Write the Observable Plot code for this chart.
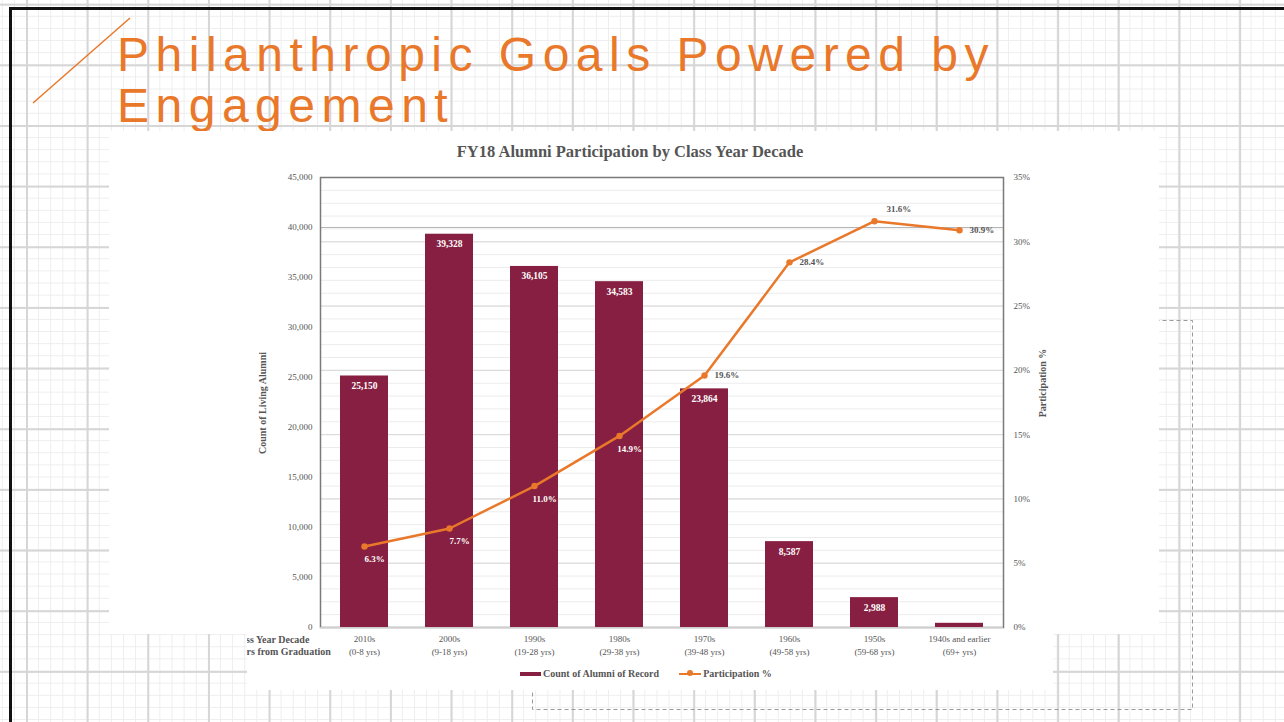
<!DOCTYPE html>
<html><head><meta charset="utf-8">
<script src="https://cdn.jsdelivr.net/npm/d3@7"></script>
<script src="https://cdn.jsdelivr.net/npm/@observablehq/plot@0.6"></script>
<style>
html,body{margin:0;padding:0;width:1284px;height:722px;overflow:hidden;background:#fff;}
#slide{position:absolute;left:0;top:0;width:1284px;height:722px;background-color:#fff;
 background-image:
  linear-gradient(to right, #d6d6d6 0, #d6d6d6 2px, transparent 2px),
  linear-gradient(to bottom, #d6d6d6 0, #d6d6d6 2px, transparent 2px),
  linear-gradient(to right, #ededed 0, #ededed 1px, transparent 1px),
  linear-gradient(to bottom, #ededed 0, #ededed 1px, transparent 1px);
 background-size:60.67px 60.67px,60.67px 60.67px,12.134px 12.134px,12.134px 12.134px;
 background-position:26px 0,0 3.7px,26px 0,0 3.7px;}
#bl{position:absolute;left:9px;top:7px;width:3px;height:720px;background:#111;}
#bt{position:absolute;left:9px;top:7px;width:1280px;height:2.5px;background:#111;}
#deco{position:absolute;left:0;top:0;}
#title{position:absolute;left:117px;top:29px;font-family:"Liberation Sans",Arial,sans-serif;font-size:48px;line-height:51px;letter-spacing:6.5px;color:#E9782A;white-space:nowrap;}
#chart{position:absolute;left:109px;top:131px;width:1050px;height:559px;background:#fff;
 clip-path:polygon(0 0,1050px 0,1050px 503px,944px 503px,944px 559px,138px 559px,138px 503px,0 503px);
 font-family:"Liberation Serif","Times New Roman",serif;color:#555;}
#ctitle{position:absolute;left:0;width:1042px;top:11px;text-align:center;font-size:16.5px;font-weight:bold;color:#555;}
.ytitle{position:absolute;font-size:10px;font-weight:bold;color:#555;white-space:nowrap;transform:translate(-50%,-50%) rotate(-90deg);}
#xtitle{position:absolute;left:122px;top:503px;font-size:10px;font-weight:bold;line-height:11.5px;color:#555;white-space:nowrap;}
#legend{position:absolute;left:411px;top:537px;font-size:10px;font-weight:bold;color:#555;white-space:nowrap;display:flex;align-items:center;}
#legend .sw{display:inline-block;width:21px;height:4px;background:#861F41;margin-right:2px;}
#legend .ln{display:inline-block;position:relative;width:22px;height:2px;background:#E9782A;margin:0 2px 0 20px;}
#legend .ln i{position:absolute;left:8px;top:-2.5px;width:6px;height:6px;border-radius:50%;background:#E9782A;}
</style></head>
<body>
<div id="slide"></div>
<div id="bl"></div><div id="bt"></div>
<svg id="deco" width="1284" height="722">
  <line x1="33" y1="103" x2="130" y2="18" stroke="#E9782A" stroke-width="1.5"/>
  <rect x="532.5" y="320.5" width="660" height="389" fill="none" stroke="#9a9a9a" stroke-width="1" stroke-dasharray="4 3"/>
</svg>
<div id="title">Philanthropic Goals Powered by<br>Engagement</div>
<div id="chart">
  <div id="ctitle">FY18 Alumni Participation by Class Year Decade</div>
  <div class="ytitle" style="left:153px;top:272px;">Count of Living Alumni</div>
  <div class="ytitle" style="left:933px;top:252px;">Participation %</div>
  <div id="xtitle">Class Year Decade<br>Years from Graduation</div>
  <div id="legend"><span class="sw"></span>Count of Alumni of Record<span class="ln"><i></i></span>Participation %</div>
</div>
<script>
const decades = ["2010s","2000s","1990s","1980s","1970s","1960s","1950s","1940s and earlier"];
const yearsOut = ["(0-8 yrs)","(9-18 yrs)","(19-28 yrs)","(29-38 yrs)","(39-48 yrs)","(49-58 yrs)","(59-68 yrs)","(69+ yrs)"];
const alumniCount = [25150, 39328, 36105, 34583, 23864, 8587, 2988, 420];
const participation = [6.3, 7.7, 11.0, 14.9, 19.6, 28.4, 31.6, 30.9];
const countTicks = [0,5000,10000,15000,20000,25000,30000,35000,40000,45000];
const pctTicks = [0,5,10,15,20,25,30,35];
const pctMinor = d3.range(0,36,1);

const K = 45000/35; // percent -> count axis
const data = decades.map((d,i)=>({decade:d, yrs:yearsOut[i], count:alumniCount[i], pct:participation[i], i}));
const yrsOf = new Map(decades.map((d,i)=>[d, yearsOut[i]]));
const fmt = d3.format(",");
const orange = "#E9782A", maroon = "#861F41";

const below = data.filter(d=>d.i<4);
const right = data.filter(d=>d.i===4||d.i===5||d.i===7);
const above = data.filter(d=>d.i===6);

const plot = Plot.plot({
  width:1050, height:559,
  marginLeft:211, marginRight:156, marginTop:46, marginBottom:63,
  style:{fontFamily:"'Liberation Serif','Times New Roman',serif", fontSize:"9px", color:"#555", background:"transparent"},
  x:{domain:decades, paddingInner:0.43, paddingOuter:0.215},
  y:{domain:[0,45000]},
  marks:[
    Plot.gridY(pctMinor.map(p=>p*K), {stroke:"#ececec", strokeOpacity:1}),
    Plot.gridY(pctTicks.map(p=>p*K), {stroke:"#d8d8d8", strokeOpacity:1}),
    Plot.ruleY([40000], {stroke:"#b5b5b5"}),
    Plot.frame({stroke:"#7a7a7a", strokeWidth:1.5}),
    Plot.axisY(countTicks, {tickSize:0, tickPadding:8, tickFormat:fmt, label:null}),
    Plot.axisY(pctTicks.map(p=>p*K), {anchor:"right", tickSize:0, tickPadding:10, tickFormat:d=>Math.round(d/K)+"%", label:null}),
    Plot.axisX({tickSize:0, tickPadding:5, tickFormat:d=>d+"\n"+yrsOf.get(d), lineHeight:1.45, label:null}),
    Plot.barY(data, {x:"decade", y:"count", fill:maroon}),
    Plot.ruleY([0], {stroke:"#cfcfcf"}),
    Plot.text(data.filter(d=>d.count>1000), {x:"decade", y:"count", text:d=>fmt(d.count), dy:10, fill:"white", fontWeight:"bold", fontSize:9.5}),
    Plot.line(data, {x:"decade", y:d=>d.pct*K, stroke:orange, strokeWidth:2.5}),
    Plot.dot(data, {x:"decade", y:d=>d.pct*K, r:3.2, fill:orange}),
    Plot.text(below, {x:"decade", y:d=>d.pct*K, text:d=>d.pct.toFixed(1)+"%", dx:10, dy:13, fill:"white", fontWeight:"bold", fontSize:9}),
    Plot.text(right, {x:"decade", y:d=>d.pct*K, text:d=>d.pct.toFixed(1)+"%", dx:10, textAnchor:"start", fill:"#555", fontWeight:"bold", fontSize:9}),
    Plot.text(above, {x:"decade", y:d=>d.pct*K, text:d=>d.pct.toFixed(1)+"%", dx:12, dy:-12, textAnchor:"start", fill:"#555", fontWeight:"bold", fontSize:9})
  ]
});
plot.style.position="absolute"; plot.style.left="0"; plot.style.top="0";
document.getElementById("chart").prepend(plot);
</script>
</body></html>
